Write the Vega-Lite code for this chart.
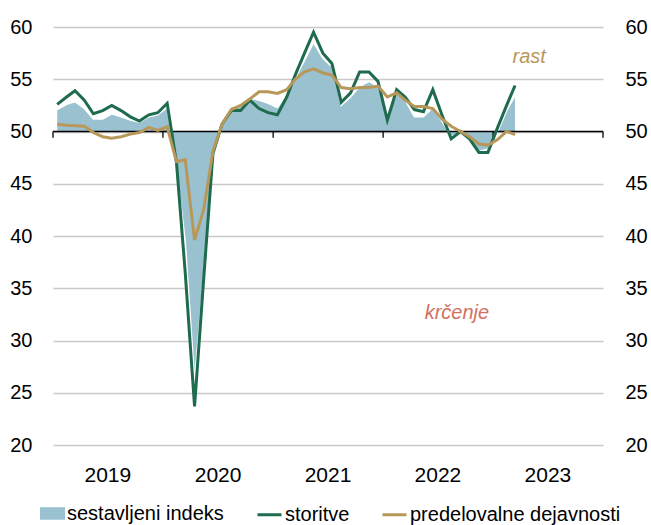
{
  "$schema": "https://vega.github.io/schema/vega-lite/v6.json",
  "width": 550,
  "height": 418,
  "autosize": {"type": "none"},
  "padding": {"left": 53, "top": 27, "right": 48, "bottom": 80},
  "background": "white",
  "config": {
    "view": {"stroke": null},
    "font": "Liberation Sans, Arial, sans-serif"
  },
  "datasets": {
    "pmi": [
      {"date": "2019-01-15", "sestavljeni": 52.1, "storitve": 52.6, "predelovalne": 50.7},
      {"date": "2019-02-15", "sestavljeni": 52.6, "storitve": 53.3, "predelovalne": 50.6},
      {"date": "2019-03-15", "sestavljeni": 52.85, "storitve": 53.9, "predelovalne": 50.55},
      {"date": "2019-04-15", "sestavljeni": 52.2, "storitve": 53.0, "predelovalne": 50.5},
      {"date": "2019-05-15", "sestavljeni": 51.2, "storitve": 51.7, "predelovalne": 49.9},
      {"date": "2019-06-15", "sestavljeni": 51.2, "storitve": 52.0, "predelovalne": 49.5},
      {"date": "2019-07-15", "sestavljeni": 51.7, "storitve": 52.5, "predelovalne": 49.35},
      {"date": "2019-08-15", "sestavljeni": 51.4, "storitve": 52.0, "predelovalne": 49.5},
      {"date": "2019-09-15", "sestavljeni": 51.1, "storitve": 51.4, "predelovalne": 49.75},
      {"date": "2019-10-15", "sestavljeni": 50.9, "storitve": 51.0, "predelovalne": 49.9},
      {"date": "2019-11-15", "sestavljeni": 51.4, "storitve": 51.6, "predelovalne": 50.4},
      {"date": "2019-12-15", "sestavljeni": 51.6, "storitve": 51.8, "predelovalne": 50.1},
      {"date": "2020-01-15", "sestavljeni": 52.3, "storitve": 52.7, "predelovalne": 50.45},
      {"date": "2020-02-15", "sestavljeni": 46.5, "storitve": 47.0, "predelovalne": 47.1},
      {"date": "2020-03-15", "sestavljeni": 39.5, "storitve": 36.5, "predelovalne": 47.3},
      {"date": "2020-04-15", "sestavljeni": 26.2, "storitve": 23.7, "predelovalne": 39.6},
      {"date": "2020-05-15", "sestavljeni": 36.2, "storitve": 35.8, "predelovalne": 42.5},
      {"date": "2020-06-15", "sestavljeni": 47.7, "storitve": 47.9, "predelovalne": 48.1},
      {"date": "2020-07-15", "sestavljeni": 51.0, "storitve": 50.7, "predelovalne": 50.7},
      {"date": "2020-08-15", "sestavljeni": 52.4, "storitve": 52.0, "predelovalne": 52.1},
      {"date": "2020-09-15", "sestavljeni": 52.4, "storitve": 52.0, "predelovalne": 52.5},
      {"date": "2020-10-15", "sestavljeni": 53.2, "storitve": 53.0, "predelovalne": 53.1},
      {"date": "2020-11-15", "sestavljeni": 53.0, "storitve": 52.2, "predelovalne": 53.8},
      {"date": "2020-12-15", "sestavljeni": 52.7, "storitve": 51.8, "predelovalne": 53.8},
      {"date": "2021-01-15", "sestavljeni": 52.3, "storitve": 51.6, "predelovalne": 53.65},
      {"date": "2021-02-15", "sestavljeni": 53.6, "storitve": 53.3, "predelovalne": 54.0},
      {"date": "2021-03-15", "sestavljeni": 55.1, "storitve": 55.4, "predelovalne": 55.0},
      {"date": "2021-04-15", "sestavljeni": 56.8, "storitve": 57.5, "predelovalne": 55.7},
      {"date": "2021-05-15", "sestavljeni": 58.5, "storitve": 59.5, "predelovalne": 56.0},
      {"date": "2021-06-15", "sestavljeni": 57.0, "storitve": 57.5, "predelovalne": 55.6},
      {"date": "2021-07-15", "sestavljeni": 56.2, "storitve": 56.5, "predelovalne": 55.4},
      {"date": "2021-08-15", "sestavljeni": 52.5, "storitve": 52.8, "predelovalne": 54.2},
      {"date": "2021-09-15", "sestavljeni": 53.3, "storitve": 53.7, "predelovalne": 54.1},
      {"date": "2021-10-15", "sestavljeni": 54.3, "storitve": 55.7, "predelovalne": 54.2},
      {"date": "2021-11-15", "sestavljeni": 54.8, "storitve": 55.7, "predelovalne": 54.2},
      {"date": "2021-12-15", "sestavljeni": 54.3, "storitve": 54.8, "predelovalne": 54.35},
      {"date": "2022-01-15", "sestavljeni": 51.5, "storitve": 51.1, "predelovalne": 53.3},
      {"date": "2022-02-15", "sestavljeni": 53.6, "storitve": 54.0, "predelovalne": 53.7},
      {"date": "2022-03-15", "sestavljeni": 53.0, "storitve": 53.3, "predelovalne": 53.0},
      {"date": "2022-04-15", "sestavljeni": 51.4, "storitve": 52.1, "predelovalne": 52.4},
      {"date": "2022-05-15", "sestavljeni": 51.4, "storitve": 51.9, "predelovalne": 52.4},
      {"date": "2022-06-15", "sestavljeni": 52.3, "storitve": 54.0, "predelovalne": 52.2},
      {"date": "2022-07-15", "sestavljeni": 51.0, "storitve": 51.6, "predelovalne": 51.2},
      {"date": "2022-08-15", "sestavljeni": 49.5, "storitve": 49.3, "predelovalne": 50.5},
      {"date": "2022-09-15", "sestavljeni": 49.9, "storitve": 50.0, "predelovalne": 50.0},
      {"date": "2022-10-15", "sestavljeni": 49.2, "storitve": 49.3, "predelovalne": 49.5},
      {"date": "2022-11-15", "sestavljeni": 48.1, "storitve": 48.0, "predelovalne": 48.8},
      {"date": "2022-12-15", "sestavljeni": 48.3, "storitve": 48.0, "predelovalne": 48.7},
      {"date": "2023-01-15", "sestavljeni": 49.9, "storitve": 50.3, "predelovalne": 49.2},
      {"date": "2023-02-15", "sestavljeni": 52.0, "storitve": 52.5, "predelovalne": 50.0},
      {"date": "2023-03-15", "sestavljeni": 53.4, "storitve": 54.4, "predelovalne": 49.7}
    ],
    "years": [
      {"d": "2019-01-01"}, {"d": "2020-01-01"}, {"d": "2021-01-01"},
      {"d": "2022-01-01"}, {"d": "2023-01-01"}, {"d": "2024-01-01"}
    ],
    "yearLabels": [
      {"label": "2019", "mid": "2019-07-02"},
      {"label": "2020", "mid": "2020-07-02"},
      {"label": "2021", "mid": "2021-07-02"},
      {"label": "2022", "mid": "2022-07-02"},
      {"label": "2023", "mid": "2023-07-02"}
    ]
  },
  "resolve": {"axis": {"y": "independent"}},
  "layer": [
    {
      "data": {"name": "pmi"},
      "mark": {"type": "area", "opacity": 1},
      "encoding": {
        "x": {
          "field": "date", "type": "temporal",
          "scale": {"type": "utc", "domain": [1546300800000, 1704067200000]},
          "axis": null
        },
        "y": {
          "field": "sestavljeni", "type": "quantitative",
          "scale": {"domain": [20, 60], "nice": false, "zero": false},
          "axis": {
            "orient": "left",
            "values": [20, 25, 30, 35, 40, 45, 50, 55, 60],
            "grid": true, "gridColor": "#c9c9c9", "gridWidth": 1.5,
            "domain": false, "ticks": false,
            "labelPadding": 21, "labelFontSize": 20, "labelColor": "#000000",
            "title": null
          }
        },
        "y2": {"datum": 50},
        "fill": {
          "datum": "sestavljeni indeks",
          "scale": {"domain": ["sestavljeni indeks"], "range": ["#9ac1d0"]},
          "legend": {
            "orient": "none",
            "legendX": -13,
            "legendY": 474,
            "direction": "horizontal",
            "title": null,
            "labelFontSize": 20,
            "labelColor": "#000000",
            "labelOffset": 2,
            "symbolType": "M-1,-0.5H1V0.5H-1Z",
            "symbolSize": 625,
            "symbolStrokeWidth": 0,
            "symbolOpacity": 1,
            "labelLimit": 400
          }
        }
      }
    },
    {
      "data": {"name": "pmi"},
      "mark": {"type": "line", "color": "#ffffff", "strokeWidth": 1.5},
      "encoding": {
        "x": {"field": "date", "type": "temporal", "scale": {"type": "utc", "domain": [1546300800000, 1704067200000]}, "axis": null},
        "y": {"field": "sestavljeni", "type": "quantitative", "axis": null}
      }
    },
    {
      "data": {"values": [{}]},
      "mark": {"type": "rule", "color": "#000000", "strokeWidth": 1.3},
      "encoding": {"y": {"datum": 50, "type": "quantitative", "axis": null}}
    },
    {
      "data": {"name": "years"},
      "mark": {"type": "rule", "color": "#000000", "strokeWidth": 1.3},
      "encoding": {
        "x": {"field": "d", "type": "temporal", "scale": {"type": "utc", "domain": [1546300800000, 1704067200000]}, "axis": null},
        "y": {"datum": 50, "type": "quantitative", "axis": null},
        "y2": {"datum": 49.4}
      }
    },
    {
      "data": {"name": "yearLabels"},
      "mark": {"type": "text", "fontSize": 21, "color": "#000000", "align": "center", "baseline": "middle"},
      "encoding": {
        "x": {"field": "mid", "type": "temporal", "scale": {"type": "utc", "domain": [1546300800000, 1704067200000]}, "axis": null},
        "y": {"datum": 17.0, "type": "quantitative", "axis": null},
        "text": {"field": "label", "type": "nominal"}
      }
    },
    {
      "data": {"name": "pmi"},
      "mark": {"type": "line", "strokeWidth": 3},
      "encoding": {
        "x": {"field": "date", "type": "temporal", "scale": {"type": "utc", "domain": [1546300800000, 1704067200000]}, "axis": null},
        "y": {
          "field": "storitve", "type": "quantitative",
          "axis": {
            "orient": "right",
            "values": [20, 25, 30, 35, 40, 45, 50, 55, 60],
            "grid": false, "domain": false, "ticks": false,
            "labelPadding": 22, "labelFontSize": 20, "labelColor": "#000000",
            "title": null
          }
        },
        "stroke": {
          "datum": "storitve",
          "scale": {"domain": ["storitve", "predelovalne dejavnosti"], "range": ["#1f6b4e", "#b8985a"]},
          "legend": {
            "orient": "none",
            "legendX": 203,
            "legendY": 474,
            "direction": "horizontal",
            "title": null,
            "labelFontSize": 20,
            "labelColor": "#000000",
            "labelOffset": 2,
            "columnPadding": 26,
            "symbolType": "stroke",
            "symbolSize": 576,
            "symbolStrokeWidth": 3,
            "labelLimit": 400
          }
        }
      }
    },
    {
      "data": {"name": "pmi"},
      "mark": {"type": "line", "strokeWidth": 3},
      "encoding": {
        "x": {"field": "date", "type": "temporal", "scale": {"type": "utc", "domain": [1546300800000, 1704067200000]}, "axis": null},
        "y": {"field": "predelovalne", "type": "quantitative", "axis": null},
        "stroke": {"datum": "predelovalne dejavnosti"}
      }
    },
    {
      "data": {"values": [{}]},
      "mark": {"type": "text", "text": "rast", "color": "#b8985a", "fontSize": 20, "fontStyle": "italic", "align": "center", "baseline": "middle"},
      "encoding": {
        "x": {"datum": 1682899200000, "type": "temporal", "scale": {"type": "utc", "domain": [1546300800000, 1704067200000]}, "axis": null},
        "y": {"datum": 57.1, "type": "quantitative", "axis": null}
      }
    },
    {
      "data": {"values": [{}]},
      "mark": {"type": "text", "text": "krčenje", "color": "#d4705f", "fontSize": 20, "fontStyle": "italic", "align": "center", "baseline": "middle"},
      "encoding": {
        "x": {"datum": 1662163200000, "type": "temporal", "scale": {"type": "utc", "domain": [1546300800000, 1704067200000]}, "axis": null},
        "y": {"datum": 32.6, "type": "quantitative", "axis": null}
      }
    }
  ]
}
